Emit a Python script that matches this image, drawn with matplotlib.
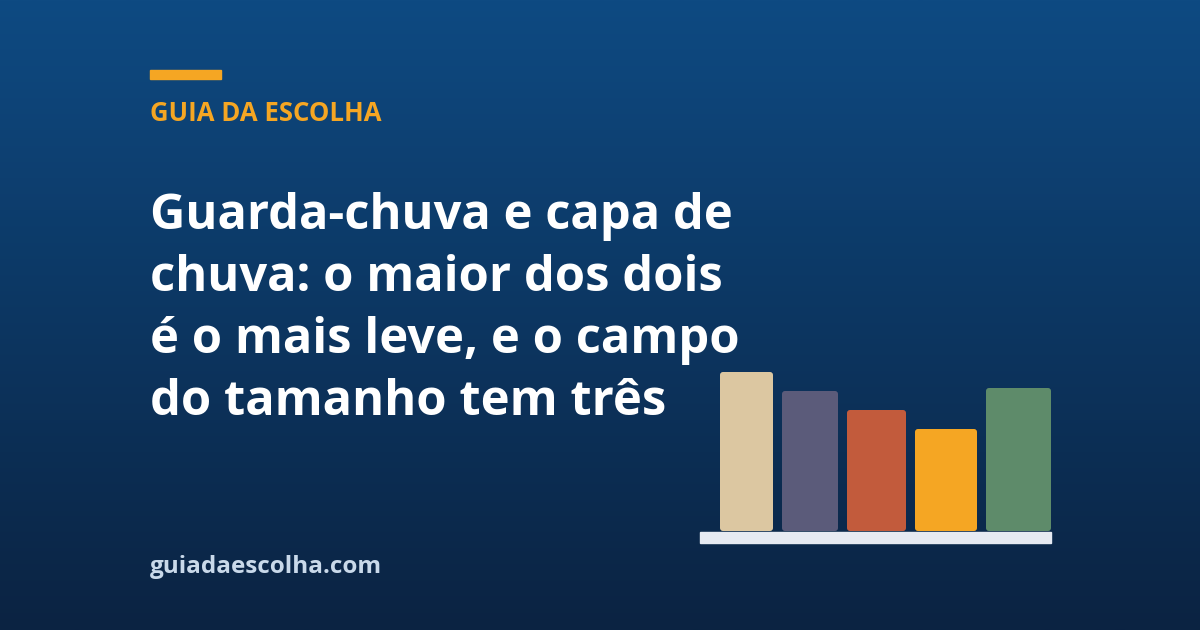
import numpy as np
import matplotlib
matplotlib.use('Agg')
import matplotlib.pyplot as plt
from matplotlib.colors import LinearSegmentedColormap
from matplotlib.patches import FancyBboxPatch

W, H = 1200, 630

# bar chart values (pixel heights)
bar_heights = [159, 140, 121, 102, 143]
bar_widths = [53, 56, 59, 62, 65]
bar_centers = [746.5, 810, 876.5, 946, 1018.5]
bar_colors = ['#dcc7a1', '#5b5b7a', '#c25b3c', '#f5a623', '#5e8b6a']

kicker = 'GUIA DA ESCOLHA'
title_lines = ['Guarda-chuva e capa de',
               'chuva: o maior dos dois',
               'é o mais leve, e o campo',
               'do tamanho tem três']
footer = 'guiadaescolha.com'

FONT = ['Open Sans', 'DejaVu Sans']

fig = plt.figure(figsize=(W / 100, H / 100), dpi=100)
ax = fig.add_axes([0, 0, 1, 1])
ax.set_xlim(0, W)
ax.set_ylim(H, 0)
ax.axis('off')

# background gradient
cmap = LinearSegmentedColormap.from_list('bg', ['#0e4a82', '#0b2342'])
grad = np.linspace(0, 1, 256).reshape(-1, 1)
ax.imshow(grad, cmap=cmap, extent=[0, W, H, 0], aspect='auto', zorder=0)

# accent bar + kicker
ax.add_patch(plt.Rectangle((150, 70), 71, 9, color='#f5a623', zorder=2))
ax.text(150, 121, kicker, color='#f5a623', fontsize=18.5, fontweight='bold',
        family=FONT, va='baseline', ha='left', zorder=3)

for i, line in enumerate(title_lines):
    ax.text(150, 229 + i * 62, line, color='white', fontsize=35.2, fontweight='bold',
            family=FONT, va='baseline', ha='left', zorder=3)

ax.text(150, 573, footer, color='#c9d9ea', fontsize=17.5, fontweight='bold',
        family=FONT, va='baseline', ha='left', zorder=3)

# baseline strip
ax.add_patch(plt.Rectangle((700, 532), 351, 11, color='#e6eaf2', zorder=2))

# bars
bx = fig.add_axes([700 / W, (H - 531) / H, 351 / W, 200 / H])
bx.set_xlim(700, 1051)
bx.set_ylim(0, 200)
bx.axis('off')
bx.patch.set_alpha(0)
bars = bx.bar(bar_centers, bar_heights, width=bar_widths, color=bar_colors)

# slightly rounded corners
for rect in bars:
    rect.set_visible(False)
    bx.add_patch(FancyBboxPatch((rect.get_x(), rect.get_y()), rect.get_width(),
                                rect.get_height(),
                                boxstyle='round,pad=0,rounding_size=3',
                                color=rect.get_facecolor(), lw=0))

fig.savefig('out.png', dpi=100)
